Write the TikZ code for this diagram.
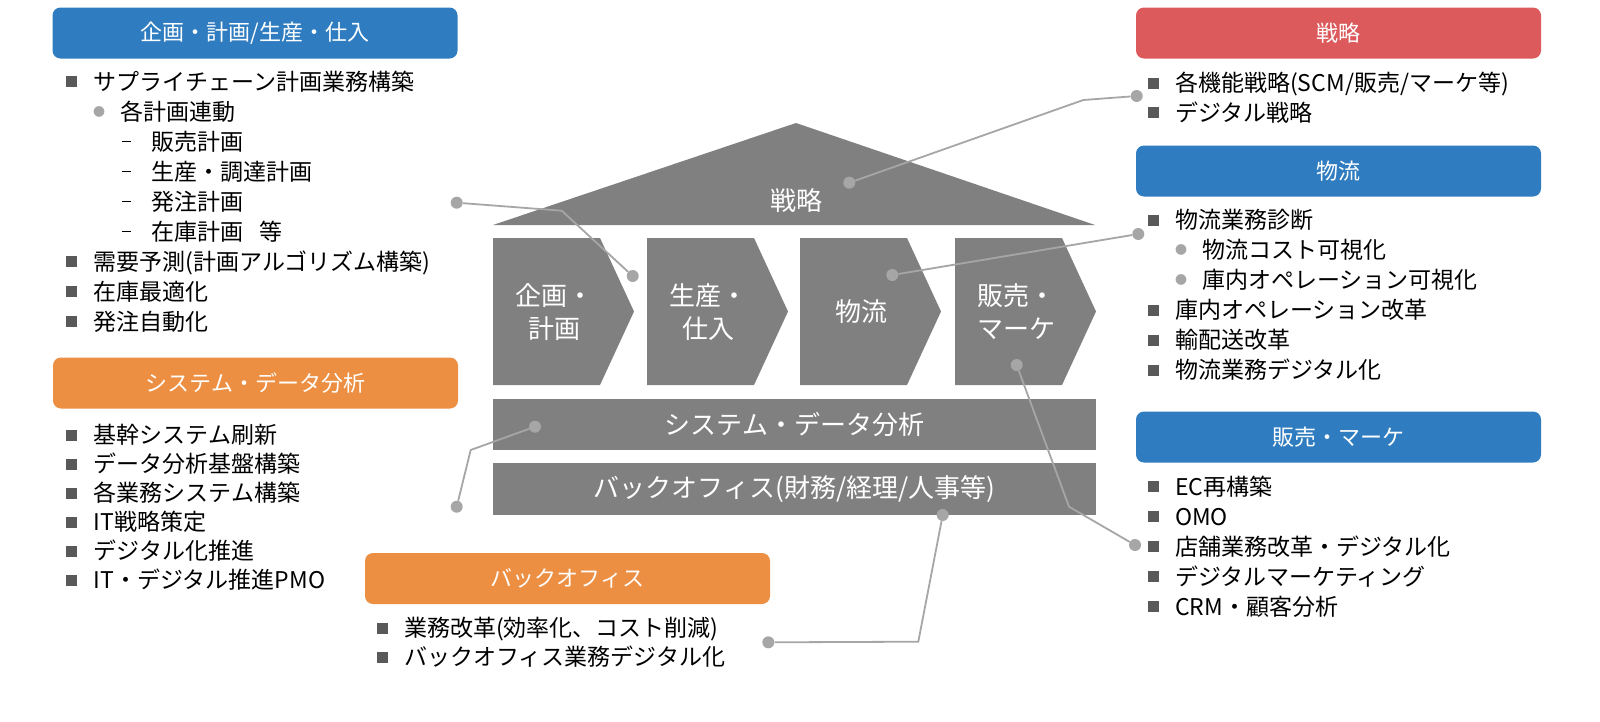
\documentclass[tikz,border=0pt]{standalone}
\usepackage{fontspec}
\setmainfont{Noto Sans CJK JP}
\usepackage{xcolor}
\usepackage{tikz}

\definecolor{headblue}{HTML}{2F7DC0}
\definecolor{headred}{HTML}{DD5A5C}
\definecolor{headorange}{HTML}{EC8F42}
\definecolor{housegray}{HTML}{808080}
\definecolor{linegray}{HTML}{A6A6A6}
\definecolor{bulgray}{HTML}{595959}

% bullets
\newcommand{\sqb}{\textcolor{bulgray}{\rule[3pt]{11pt}{11pt}}\hspace{16.5pt}}
\newcommand{\cib}{\textcolor{linegray}{\raisebox{4pt}{\fontsize{12}{12}\selectfont ●}}\hspace{15pt}}
\newcommand{\dsb}{\rule[8pt]{9pt}{1.3pt}\hspace{21pt}}

\begin{document}
\begin{tikzpicture}[x=1pt, y=-1pt,
    head/.style={rectangle, rounded corners=8pt, minimum width=405pt, minimum height=51pt, inner sep=0pt, text=white, font=\fontsize{22}{26}\selectfont},
    item/.style={anchor=west, inner sep=0pt, text height=20pt, text depth=3pt, font=\fontsize{23}{26}\selectfont},
    hlabel/.style={text=white, align=center, inner sep=0pt, font=\fontsize{26}{33}\selectfont},
    dot/.style={circle, fill=linegray, inner sep=0pt, minimum size=12pt},
    link/.style={draw=linegray, line width=1.8pt}]

    \fill[white] (0,0) rectangle (1600,721);
    \useasboundingbox (0,0) rectangle (1600,721);

    % House
    \fill[housegray] (493,225) -- (796,123) -- (1095,225) -- cycle;
    \foreach \l in {493,647,800,955}
        \fill[housegray] (\l,238) -- (\l+107,238) -- (\l+141,311.5) -- (\l+107,385) -- (\l,385) -- cycle;
    \fill[housegray] (493,399) rectangle (1096,450);
    \fill[housegray] (493,463) rectangle (1096,515);

    \node[hlabel] (roof) at (796,201) {戦略};
    \node[hlabel] (plan) at (554,312) {企画・\\計画};
    \node[hlabel] (prod) at (708,312) {生産・\\仕入};
    \node[hlabel] (logi) at (861,312) {物流};
    \node[hlabel] (sales) at (1016,312) {販売・\\マーケ};
    \node[hlabel] (sys) at (794.5,425) {システム・データ分析};
    \node[hlabel] (back) at (794.5,489) {バックオフィス(財務/経理/人事等)};

    % Headers
    \node[head, fill=headblue] (hPlan) at (255,33) {企画・計画/生産・仕入};
    \node[head, fill=headorange] (hSys) at (255.5,383) {システム・データ分析};
    \node[head, fill=headorange] (hBack) at (567.5,578.5) {バックオフィス};
    \node[head, fill=headred] (hStrat) at (1338.5,33) {戦略};
    \node[head, fill=headblue] (hLogi) at (1338.5,171) {物流};
    \node[head, fill=headblue] (hSales) at (1338.5,437) {販売・マーケ};

    % Items: planning
    \node[item] (p1) at (66,81.7) {\sqb サプライチェーン計画業務構築};
    \node[item] (p2) at (93,111.7) {\cib 各計画連動};
    \node[item] (p3) at (121.7,141.7) {\dsb 販売計画};
    \node[item] (p4) at (121.7,171.7) {\dsb 生産・調達計画};
    \node[item] (p5) at (121.7,201.7) {\dsb 発注計画};
    \node[item] (p6) at (121.7,231.7) {\dsb 在庫計画\hspace{16pt}等};
    \node[item] (p7) at (66,261.7) {\sqb 需要予測(計画アルゴリズム構築)};
    \node[item] (p8) at (66,291.7) {\sqb 在庫最適化};
    \node[item] (p9) at (66,321.7) {\sqb 発注自動化};

    % Items: system
    \node[item] (s1) at (66,435) {\sqb 基幹システム刷新};
    \node[item] (s2) at (66,464) {\sqb データ分析基盤構築};
    \node[item] (s3) at (66,493) {\sqb 各業務システム構築};
    \node[item] (s4) at (66,522) {\sqb IT戦略策定};
    \node[item] (s5) at (66,551) {\sqb デジタル化推進};
    \node[item] (s6) at (66,580) {\sqb IT・デジタル推進PMO};

    % Items: back office
    \node[item] (b1) at (376.5,628.3) {\sqb 業務改革(効率化、コスト削減)};
    \node[item] (b2) at (376.5,657) {\sqb バックオフィス業務デジタル化};

    % Items: strategy
    \node[item] (t1) at (1147.5,83.3) {\sqb 各機能戦略(SCM/販売/マーケ等)};
    \node[item] (t2) at (1147.5,112.7) {\sqb デジタル戦略};

    % Items: logistics
    \node[item] (l1) at (1147.5,220) {\sqb 物流業務診断};
    \node[item] (l2) at (1175,250) {\cib 物流コスト可視化};
    \node[item] (l3) at (1175,280) {\cib 庫内オペレーション可視化};
    \node[item] (l4) at (1147.5,310) {\sqb 庫内オペレーション改革};
    \node[item] (l5) at (1147.5,340) {\sqb 輸配送改革};
    \node[item] (l6) at (1147.5,370) {\sqb 物流業務デジタル化};

    % Items: sales
    \node[item] (m1) at (1147.5,486.7) {\sqb EC再構築};
    \node[item] (m2) at (1147.5,516.5) {\sqb OMO};
    \node[item] (m3) at (1147.5,546.5) {\sqb 店舗業務改革・デジタル化};
    \node[item] (m4) at (1147.5,576.5) {\sqb デジタルマーケティング};
    \node[item] (m5) at (1147.5,606.5) {\sqb CRM・顧客分析};

    % Connectors
    \coordinate (kPlan) at (561.7,210.7);
    \coordinate (kStrat) at (1083.3,100);
    \coordinate (kSales) at (1069,506.7);
    \coordinate (kSys) at (470.7,450);
    \coordinate (kBack) at (918.3,641.7);

    \node[dot] (dPlanA) at (456.7,202.7) {};
    \node[dot] (dPlanB) at (632.7,276) {};
    \node[dot] (dStratA) at (849.3,182.7) {};
    \node[dot] (dStratB) at (1136.7,96) {};
    \node[dot] (dLogiA) at (892.3,275) {};
    \node[dot] (dLogiB) at (1138.3,234) {};
    \node[dot] (dSalesA) at (1016.7,365) {};
    \node[dot] (dSalesB) at (1135,545) {};
    \node[dot] (dSysA) at (535,426.7) {};
    \node[dot] (dSysB) at (456.7,506.7) {};
    \node[dot] (dBackA) at (942.7,515) {};
    \node[dot] (dBackB) at (768.3,642.3) {};

    \draw[link] (dPlanA) -- (kPlan) -- (dPlanB);
    \draw[link] (dStratA) -- (kStrat) -- (dStratB);
    \draw[link] (dLogiA) -- (dLogiB);
    \draw[link] (dSalesA) -- (kSales) -- (dSalesB);
    \draw[link] (dSysA) -- (kSys) -- (dSysB);
    \draw[link] (dBackA) -- (kBack) -- (dBackB);

\end{tikzpicture}
\end{document}
